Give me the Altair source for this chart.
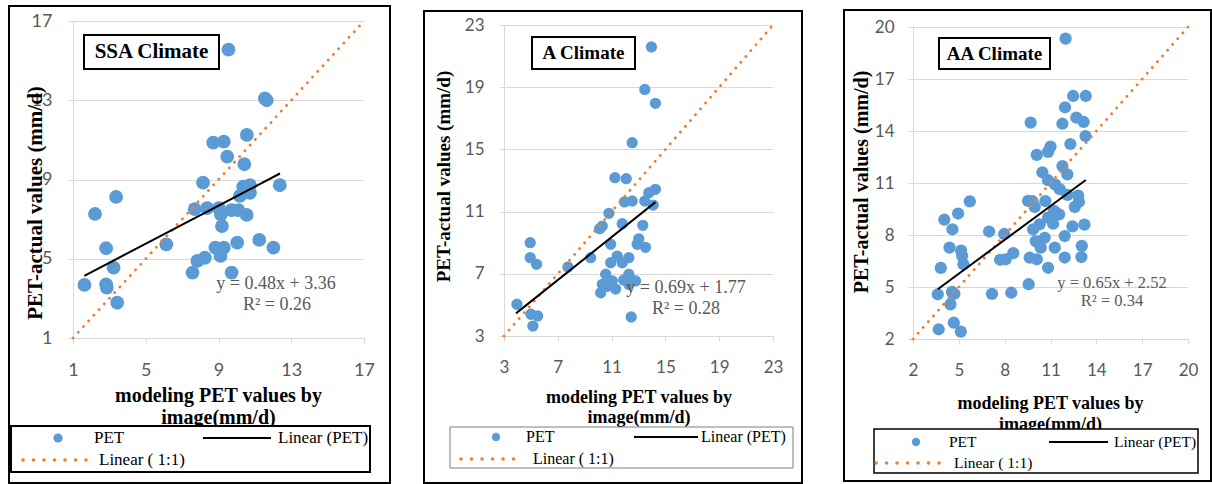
import altair as alt
import pandas as pd

# ---------------- data ----------------
ssa_x = [9.55, 11.55, 11.65, 10.56, 8.71, 9.29, 9.48, 10.42, 8.15, 3.37, 2.21, 12.37,
         10.36, 10.73, 10.73, 10.18, 7.69, 8.37, 9.02, 9.13, 9.72, 10.09, 10.55, 9.19,
         6.13, 2.82, 3.23, 1.63, 2.82, 2.86, 3.43, 8.83, 9.29, 9.11, 10.03, 11.24, 12.02,
         7.84, 8.25, 7.57, 9.72]
ssa_y = [15.55, 13.1, 13.0, 11.25, 10.86, 10.91, 10.15, 9.77, 8.84, 8.12, 7.26, 8.71,
         8.64, 8.72, 8.33, 8.17, 7.50, 7.55, 7.55, 7.24, 7.45, 7.45, 7.21, 6.65,
         5.73, 5.53, 4.55, 3.68, 3.71, 3.54, 2.78, 5.56, 5.56, 5.14, 5.81, 5.95, 5.56,
         4.89, 5.05, 4.30, 4.30]

a_x = [13.96, 13.47, 14.26, 12.53, 11.25, 12.09, 14.26, 13.77, 11.96, 12.53,
       13.47, 14.09, 10.80, 10.31, 10.11, 11.79, 13.32, 4.95, 4.95, 5.42,
       10.93, 13.02, 13.52, 9.44, 7.75, 12.90, 10.19, 10.31, 11.05, 11.30,
       12.28, 12.78, 12.28, 10.56, 11.79, 10.93, 12.28, 11.42, 10.70, 11.90,
       3.96, 5.00, 5.50, 5.15, 12.46]
a_y = [21.59, 18.86, 17.96, 15.43, 13.18, 13.12, 12.43, 12.22, 11.62, 11.68,
       11.68, 11.42, 10.89, 10.07, 9.90, 10.22, 10.12, 9.00, 8.04, 7.61,
       8.90, 9.25, 8.70, 8.04, 7.43, 8.90, 5.78, 6.32, 6.54, 6.02,
       6.32, 6.54, 6.97, 6.97, 7.71, 7.71, 8.04, 8.14, 6.20, 6.60,
       5.04, 4.40, 4.29, 3.64, 4.22]

aa_x = [11.99, 12.48, 13.31, 11.95, 12.69, 13.17, 9.70, 11.78, 13.29, 12.30,
        11.00, 10.84, 10.10, 11.78, 12.10, 10.47, 10.84, 11.30, 11.61, 12.81,
        12.86, 12.59, 12.11, 9.53, 9.81, 9.97, 10.66, 11.23, 11.56, 10.84,
        5.72, 4.95, 4.05, 4.58, 6.98, 7.97, 9.86, 10.29, 11.17, 12.44,
        13.22, 11.93, 10.03, 10.62, 10.36, 11.28, 11.93, 13.05, 13.02, 10.10,
        10.84, 9.64, 4.39, 5.15, 5.30, 5.22, 3.82, 8.56, 8.07, 7.70,
        3.62, 4.55, 4.71, 4.45, 7.17, 8.43, 9.57, 4.67, 5.13, 3.68]
aa_y = [19.33, 16.02, 16.02, 15.37, 14.77, 14.52, 14.48, 14.42, 13.71, 13.25,
        13.10, 12.80, 12.62, 11.98, 11.50, 11.62, 11.16, 10.92, 10.64, 10.27,
        9.92, 9.62, 10.31, 9.97, 9.96, 9.62, 9.96, 9.39, 9.19, 9.00,
        9.94, 9.24, 8.88, 8.33, 8.20, 8.06, 8.33, 8.62, 8.65, 8.50,
        8.60, 7.94, 7.65, 7.84, 7.27, 7.27, 6.70, 7.37, 6.73, 6.60,
        6.11, 6.69, 7.27, 7.10, 6.31, 6.79, 6.10, 6.95, 6.60, 6.57,
        4.58, 4.72, 4.61, 4.00, 4.60, 4.67, 5.16, 2.94, 2.43, 2.56]

ssa_ticks = [1, 5, 9, 13, 17]
a_ticks = [3, 7, 11, 15, 19, 23]
aa_ticks = [2, 5, 8, 11, 14, 17, 20]

fit_slope = [0.48, 0.69, 0.65]
fit_intercept = [3.36, 1.77, 2.52]
fit_xrange = [[1.62, 12.38], [3.89, 14.26], [3.62, 13.31]]

panel_names = ["SSA Climate", "A Climate", "AA Climate"]
eq_texts = ["y = 0.48x + 3.36", "y = 0.69x + 1.77", "y = 0.65x + 2.52"]
r2_texts = ["R² = 0.26", "R² = 0.28", "R² = 0.34"]
x_title = ["modeling PET values by", "image(mm/d)"]
y_title = "PET-actual values (mm/d)"
legend_labels = ["PET", "Linear (PET)", "Linear ( 1:1)"]

# ---------------- styles ----------------
BLUE = "#5b9bd5"
ORANGE = "#ed7d31"
GRID = "#d9d9d9"
LABEL = "#595959"
SERIF = "Liberation Serif"
SANS = "Lato"

styles = [
    dict(w=291, h=317, ytop=0, ms=190, lfs=18, xlp=18, ylp=16,
         xtfs=20, xtx=145, xty=63, xtlh=22, ytfs=21, ytx=-38, yty=181.5,
         frame=(-64, -15, 317, 462), box=(11, 14, 146, 48), boxfs=21, boxtxt=(78.5, 31),
         eqfs=18, eq=(203, 263), r2=(204, 284),
         lbox=(-62, 405, 297, 451), lboxc="black", lboxw=2,
         lpt=(-15, 417), lpts=85, lptx=21, lline=(130, 198, 417), llinex=205,
         ldots=(-50, 13, 439), ldotsx=26, legfs=17),
    dict(w=269, h=315, ytop=4, ms=128, lfs=17, xlp=18, ylp=15,
         xtfs=18, xtx=134.5, xty=66, xtlh=20, ytfs=19, ytx=-61, yty=155,
         frame=(-80, -10, 298, 462), box=(28, 16, 131, 48), boxfs=19, boxtxt=(79.5, 32),
         eqfs=18, eq=(182, 267), r2=(182, 288),
         lbox=(-54, 406, 289, 447), lboxc="#7f7f7f", lboxw=1,
         lpt=(-8, 416), lpts=70, lptx=22, lline=(130, 194, 416), llinex=197,
         ldots=(-43, 19, 438), ldotsx=29, legfs=16),
    dict(w=275, h=318, ytop=6, ms=150, lfs=17, xlp=18, ylp=14,
         xtfs=18, xtx=137, xty=69, xtlh=21, ytfs=20, ytx=-52, yty=160.5,
         frame=(-69, -11, 298, 460), box=(26, 17, 137, 48), boxfs=19, boxtxt=(81.5, 33),
         eqfs=16.5, eq=(199, 262), r2=(199, 280),
         lbox=(-39, 408, 285, 452), lboxc="black", lboxw=1.5,
         lpt=(3, 421), lpts=70, lptx=36, lline=(136, 195, 421), llinex=201,
         ldots=(-37, 31, 442), ldotsx=41, legfs=15.5),
]

one_row = pd.DataFrame({"k": [0]})


def txt(s, x, y, size, color="black", weight="normal", align="center", font=SERIF):
    return alt.Chart(one_row).mark_text(
        text=s, font=font, fontSize=size, fontWeight=weight, color=color,
        align=align, baseline="middle"
    ).encode(x=alt.value(x), y=alt.value(y))


def rect(b, stroke, sw, fill=None):
    kw = dict(stroke=stroke, strokeWidth=sw)
    if fill is None:
        kw["fillOpacity"] = 0
    else:
        kw["fill"] = fill
    return alt.Chart(one_row).mark_rect(**kw).encode(
        x=alt.value(b[0]), y=alt.value(b[1]), x2=alt.value(b[2]), y2=alt.value(b[3]))


def panel(i, xs, ys, ticks, st, anchor=False):
    lo, hi = ticks[0], ticks[-1]
    pts = pd.DataFrame({"x": xs, "y": ys})
    diag = pd.DataFrame({"x": [lo, hi], "y": [lo, hi]})
    xr = fit_xrange[i]
    fit = pd.DataFrame({"x": xr, "y": [fit_slope[i] * v + fit_intercept[i] for v in xr]})

    xscale = alt.Scale(domain=[lo, hi], nice=False, zero=False)
    yscale = alt.Scale(domain=[lo, hi], nice=False, zero=False, range=[st["h"], st["ytop"]])
    xaxis = alt.Axis(values=ticks, grid=False, domainColor=GRID, tickColor=GRID, tickSize=5,
                     labelFont=SANS, labelFontSize=st["lfs"], labelColor=LABEL,
                     labelPadding=st["xlp"], labelFlush=False, labelOverlap=False, format="d",
                     title=x_title, titleFont=SERIF, titleFontSize=st["xtfs"],
                     titleFontWeight="bold", titleColor="black", titleX=st["xtx"],
                     titleY=st["xty"], titleAlign="center", titleBaseline="alphabetic",
                     titleLineHeight=st["xtlh"])
    yaxis = alt.Axis(values=ticks, grid=True, gridColor=GRID, domainColor=GRID, tickColor=GRID,
                     tickSize=5, labelFont=SANS, labelFontSize=st["lfs"], labelColor=LABEL,
                     labelPadding=st["ylp"], labelFlush=False, labelOverlap=False, format="d",
                     title=y_title, titleFont=SERIF, titleFontSize=st["ytfs"],
                     titleFontWeight="bold", titleColor="black", titleAngle=270,
                     titleX=st["ytx"], titleY=st["yty"], titleAlign="center",
                     titleBaseline="middle")
    enc = dict(x=alt.X("x:Q", scale=xscale, axis=xaxis), y=alt.Y("y:Q", scale=yscale, axis=yaxis))

    layers = []
    if anchor:
        layers.append(alt.Chart(one_row).mark_rule(color="white", strokeWidth=0.1).encode(
            x=alt.value(-72), x2=alt.value(-71), y=alt.value(-20)))
    layers.append(rect(st["frame"], "black", 2))
    layers.append(alt.Chart(pts).mark_circle(size=st["ms"], color=BLUE, opacity=1).encode(**enc))
    layers.append(alt.Chart(diag).mark_line(color=ORANGE, strokeWidth=2.8, strokeDash=[0.1, 7.6],
                                            strokeCap="round").encode(**enc))
    layers.append(alt.Chart(fit).mark_line(color="black", strokeWidth=2).encode(**enc))
    # climate label box
    layers.append(rect(st["box"], "black", 2, fill="white"))
    layers.append(txt(panel_names[i], st["boxtxt"][0], st["boxtxt"][1], st["boxfs"], weight="bold"))
    # equation
    layers.append(txt(eq_texts[i], st["eq"][0], st["eq"][1], st["eqfs"], color=LABEL))
    layers.append(txt(r2_texts[i], st["r2"][0], st["r2"][1], st["eqfs"], color=LABEL))
    # legend
    layers.append(rect(st["lbox"], st["lboxc"], st["lboxw"], fill="white"))
    layers.append(alt.Chart(one_row).mark_point(filled=True, shape="circle", size=st["lpts"],
                                                color=BLUE, opacity=1).encode(
        x=alt.value(st["lpt"][0]), y=alt.value(st["lpt"][1])))
    layers.append(txt(legend_labels[0], st["lptx"], st["lpt"][1], st["legfs"], align="left"))
    layers.append(alt.Chart(one_row).mark_rule(color="black", strokeWidth=2.2).encode(
        x=alt.value(st["lline"][0]), x2=alt.value(st["lline"][1]), y=alt.value(st["lline"][2])))
    layers.append(txt(legend_labels[1], st["llinex"], st["lline"][2], st["legfs"], align="left"))
    layers.append(alt.Chart(one_row).mark_rule(color=ORANGE, strokeWidth=3.5, strokeDash=[0.1, 10.4],
                                               strokeCap="round").encode(
        x=alt.value(st["ldots"][0]), x2=alt.value(st["ldots"][1]), y=alt.value(st["ldots"][2])))
    layers.append(txt(legend_labels[2], st["ldotsx"], st["ldots"][2], st["legfs"], align="left"))

    return alt.layer(*layers).properties(width=st["w"], height=st["h"])


p1 = panel(0, ssa_x, ssa_y, ssa_ticks, styles[0], anchor=True)
p2 = panel(1, a_x, a_y, a_ticks, styles[1])
p3 = panel(2, aa_x, aa_y, aa_ticks, styles[2])

chart = alt.hconcat(p1, p2, p3, spacing=140, bounds="flush").properties(
    padding=0, background="white"
).configure_view(stroke=None)

chart.save("out.html", embed_options={"renderer": "svg", "actions": False})
